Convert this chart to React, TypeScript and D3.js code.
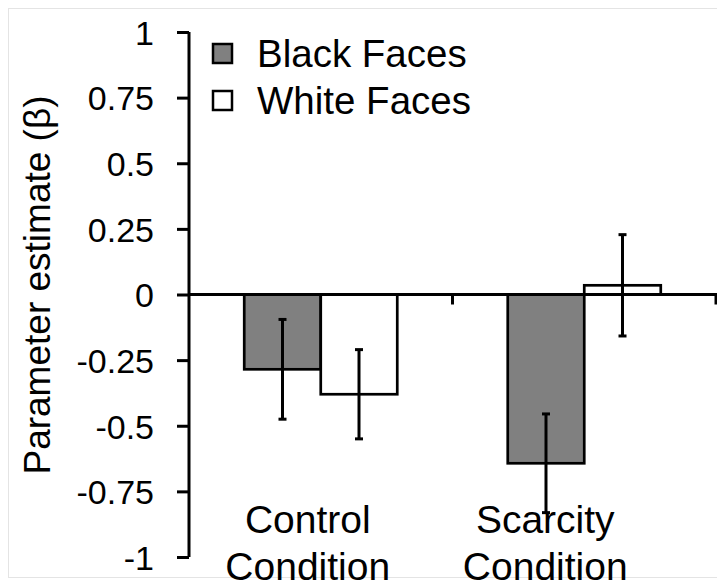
import React, { useRef, useEffect } from 'react';
import * as d3 from 'd3';

const categories = ['Control', 'Scarcity'];
const categoryLines = [['Control', 'Condition'], ['Scarcity', 'Condition']];
const seriesNames = ['Black Faces', 'White Faces'];
const seriesColors = ['#808080', '#ffffff'];
const blackValues = [-0.285, -0.643];
const whiteValues = [-0.38, 0.035];
const blackErrors = [0.19, 0.188];
const whiteErrors = [0.17, 0.193];
const yTicks = [1, 0.75, 0.5, 0.25, 0, -0.25, -0.5, -0.75, -1];
const yTitle = 'Parameter estimate (β)';

const W = 717;
const H = 582;
const FONT = '"Liberation Sans", Arial, Helvetica, sans-serif';

const App = () => {
  const svgRef = useRef<SVGSVGElement | null>(null);

  useEffect(() => {
    const svg = d3.select(svgRef.current);
    svg.selectAll('*').remove();

    const y = d3.scaleLinear().domain([-1, 1]).range([557, 32]);
    const x = d3.scaleBand().domain(categories).range([189, 716]).padding(0);
    const xSub = d3.scaleBand().domain(seriesNames)
      .range([0, x.bandwidth()])
      .paddingInner(0)
      .paddingOuter(0.722);

    // faint frame of the original figure
    svg.append('rect')
      .attr('x', 8.5).attr('y', 8.5)
      .attr('width', W).attr('height', 569)
      .attr('fill', 'none')
      .attr('stroke', '#e4e4e4')
      .attr('stroke-width', 1);

    const rows = categories.map((c, i) => ([
      { cat: c, series: seriesNames[0], value: blackValues[i], err: blackErrors[i], color: seriesColors[0] },
      { cat: c, series: seriesNames[1], value: whiteValues[i], err: whiteErrors[i], color: seriesColors[1] },
    ])).flat();

    // bars
    svg.append('g').selectAll('rect')
      .data(rows)
      .join('rect')
      .attr('x', d => (x(d.cat) as number) + (xSub(d.series) as number))
      .attr('y', d => y(Math.max(0, d.value)))
      .attr('width', xSub.bandwidth())
      .attr('height', d => Math.abs(y(d.value) - y(0)))
      .attr('fill', d => d.color)
      .attr('stroke', '#000')
      .attr('stroke-width', 2.7);

    // x axis line with ticks at band boundaries
    const xAxis = svg.append('g');
    xAxis.append('line')
      .attr('x1', 189).attr('x2', W)
      .attr('y1', y(0)).attr('y2', y(0))
      .attr('stroke', '#000').attr('stroke-width', 3);
    xAxis.selectAll('line.tick')
      .data(categories)
      .join('line')
      .classed('tick', true)
      .attr('x1', d => (x(d) as number) + x.bandwidth())
      .attr('x2', d => (x(d) as number) + x.bandwidth())
      .attr('y1', y(0)).attr('y2', y(0) + 10)
      .attr('stroke', '#000').attr('stroke-width', 3);

    // error bars
    const eb = svg.append('g').selectAll('g')
      .data(rows)
      .join('g')
      .attr('transform', d => `translate(${(x(d.cat) as number) + (xSub(d.series) as number) + xSub.bandwidth() / 2},0)`);
    eb.append('line')
      .attr('y1', d => y(d.value + d.err))
      .attr('y2', d => y(d.value - d.err))
      .attr('stroke', '#000').attr('stroke-width', 3);
    eb.append('line')
      .attr('x1', -4).attr('x2', 4)
      .attr('y1', d => y(d.value + d.err)).attr('y2', d => y(d.value + d.err))
      .attr('stroke', '#000').attr('stroke-width', 3);
    eb.append('line')
      .attr('x1', -4).attr('x2', 4)
      .attr('y1', d => y(d.value - d.err)).attr('y2', d => y(d.value - d.err))
      .attr('stroke', '#000').attr('stroke-width', 3);

    // y axis
    const yAxis = svg.append('g')
      .attr('transform', 'translate(189,0)')
      .call(d3.axisLeft(y).tickValues(yTicks).tickSize(12).tickSizeOuter(0).tickPadding(23)
        .tickFormat(d => String(d)));
    yAxis.select('.domain').attr('stroke', '#000').attr('stroke-width', 3)
      .attr('d', `M0,${y(1)}V${y(-1)}`);
    yAxis.selectAll('.tick line').attr('stroke', '#000').attr('stroke-width', 3);
    yAxis.selectAll('.tick text')
      .attr('font-family', FONT)
      .attr('font-size', 34)
      .attr('fill', '#000')
      .attr('dy', '0.36em');

    // y title
    svg.append('text')
      .attr('transform', 'translate(50,285) rotate(-90)')
      .attr('text-anchor', 'middle')
      .attr('font-family', FONT)
      .attr('font-size', 37)
      .text(yTitle);

    // category labels
    const labelShift = [-13, -39];
    const lab = svg.append('g').selectAll('text')
      .data(categories)
      .join('text')
      .attr('text-anchor', 'middle')
      .attr('font-family', FONT)
      .attr('font-size', 39)
      .attr('x', (d, i) => (x(d) as number) + x.bandwidth() / 2 + labelShift[i]);
    lab.selectAll('tspan')
      .data((d, i) => categoryLines[i].map(t => ({ t, i })))
      .join('tspan')
      .attr('x', d => (x(categories[d.i]) as number) + x.bandwidth() / 2 + labelShift[d.i])
      .attr('y', (d, j) => 533 + j * 47)
      .text(d => d.t);

    // legend
    const leg = svg.append('g').selectAll('g')
      .data(seriesNames)
      .join('g')
      .attr('transform', (d, i) => `translate(212,${43 + i * 47})`);
    leg.append('rect')
      .attr('x', 1).attr('y', 1)
      .attr('width', 19).attr('height', 19)
      .attr('fill', (d, i) => seriesColors[i])
      .attr('stroke', '#000').attr('stroke-width', 2.5);
    leg.append('text')
      .attr('x', 45).attr('y', 24)
      .attr('font-family', FONT)
      .attr('font-size', 38.5)
      .text(d => d);
  }, []);

  return (
    <svg ref={svgRef} width={W} height={H}
      style={{ position: 'absolute', left: 0, top: 0, background: '#fff' }} />
  );
};

export default App;
